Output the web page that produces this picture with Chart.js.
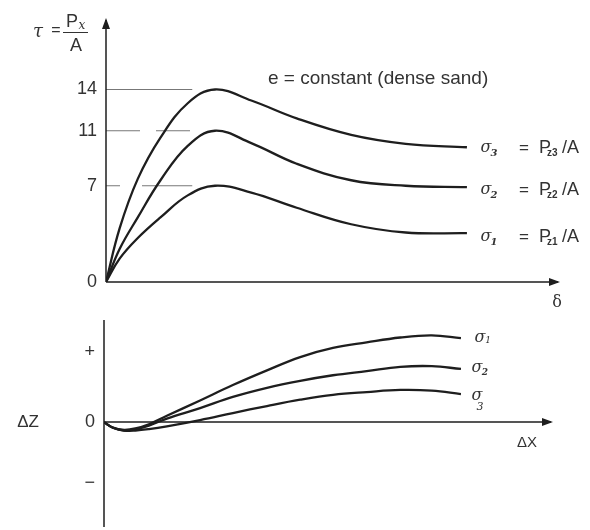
<!DOCTYPE html>
<html lang="en">
<head>
<meta charset="UTF-8">
<title>Dense sand - direct shear</title>
<script src="https://cdn.jsdelivr.net/npm/chart.js"></script>
<style>
  body { margin: 0; background: #fff; overflow: hidden; }
  #wrap { position: relative; width: 590px; height: 530px; }
  canvas { position: absolute; left: 0; }
  #topChart { top: 0; }
  #bottomChart { top: 300px; }
</style>
</head>
<body>
<div id="wrap">
  <canvas id="topChart" width="590" height="310"></canvas>
  <canvas id="bottomChart" width="590" height="230"></canvas>
</div>
<script>
// ---- top plot: tau = Px/A against displacement delta ----
const shearX    = [0, 3, 7, 12, 18, 24, 32, 42, 54, 66, 79.5];
const tauSigma3 = [0, 3.9, 7.5, 10.5, 13.0, 14.0, 13.2, 11.9, 10.7, 10.05, 9.8];
const tauSigma2 = [0, 2.4, 4.7, 7.4, 9.9, 11.0, 10.1, 8.6, 7.4, 7.0, 6.9];
const tauSigma1 = [0, 1.7, 3.2, 4.7, 6.3, 7.0, 6.5, 5.4, 4.2, 3.6, 3.55];
const tauTicks  = [0, 7, 11, 14];
const peakLevels = [14, 11, 7];
const peakLineX  = [0, 19];

// ---- bottom plot: vertical movement dZ against dX ----
const moveX    = [0, 2, 4.5, 7, 10, 14, 21.4, 28.7, 36.3, 43.7, 51, 58.5, 66, 73, 79.5];
const dzSigma1 = [0, -0.08, -0.11, -0.09, -0.03, 0.09, 0.31, 0.53, 0.74, 0.93, 1.06, 1.14, 1.21, 1.24, 1.20];
const dzSigma2 = [0, -0.08, -0.12, -0.10, -0.05, 0.05, 0.20, 0.36, 0.49, 0.59, 0.67, 0.73, 0.79, 0.80, 0.76];
const dzSigma3 = [0, -0.08, -0.12, -0.12, -0.10, -0.06, 0.03, 0.13, 0.23, 0.32, 0.39, 0.43, 0.46, 0.45, 0.40];
const dzTicks    = [-0.87, 0, 1];
const dzTickText = ['\u2212', '0', '+'];

const INK = '#1e1e1e';
const TXT = '#333';
const SANS = '"Liberation Sans", Arial, sans-serif';
const SERIF = '"DejaVu Serif", serif';

function pts(xs, ys) { return xs.map((x, i) => ({ x: x, y: ys[i] })); }

function curve(data) {
  return { data: data, borderColor: INK, borderWidth: 2.3, pointRadius: 0,
           showLine: true, tension: 0.4, fill: false };
}

function arrow(ctx, x, y, dir) {
  ctx.save();
  ctx.fillStyle = INK;
  ctx.beginPath();
  if (dir === 'right') { ctx.moveTo(x, y); ctx.lineTo(x - 11, y - 4); ctx.lineTo(x - 11, y + 4); }
  else { ctx.moveTo(x, y); ctx.lineTo(x - 4, y + 11); ctx.lineTo(x + 4, y + 11); }
  ctx.closePath();
  ctx.fill();
  ctx.restore();
}

function txt(ctx, s, x, y, font, align) {
  ctx.font = font;
  ctx.fillStyle = TXT;
  ctx.textAlign = align || 'left';
  ctx.textBaseline = 'middle';
  ctx.fillText(s, x, y);
}

function noPad(s) { s.width = 60; s.paddingTop = 0; s.paddingBottom = 0; }

// axes with arrow heads + free text
const topDecor = {
  id: 'topDecor',
  afterDraw(chart) {
    const ctx = chart.ctx, a = chart.chartArea;
    ctx.save();
    ctx.strokeStyle = INK; ctx.lineWidth = 1.5;
    ctx.beginPath();
    ctx.moveTo(a.left, a.bottom); ctx.lineTo(a.left, a.top + 2);
    ctx.moveTo(a.left, a.bottom); ctx.lineTo(a.right - 2, a.bottom);
    ctx.stroke();
    arrow(ctx, a.left, a.top, 'up');
    arrow(ctx, a.right, a.bottom, 'right');

    txt(ctx, '\u03c4', 38, 32, 'italic 18px ' + SERIF, 'center');
    txt(ctx, '=', 56, 31, '16px ' + SANS, 'center');
    txt(ctx, 'P', 72, 22, '18px ' + SANS, 'center');
    txt(ctx, 'x', 82, 26, 'italic 12px ' + SERIF, 'center');
    ctx.strokeStyle = TXT; ctx.lineWidth = 1;
    ctx.beginPath(); ctx.moveTo(63, 32.5); ctx.lineTo(88, 32.5); ctx.stroke();
    txt(ctx, 'A', 76, 46, '18px ' + SANS, 'center');

    txt(ctx, 'e = constant (dense sand)', 268, 79, '19px ' + SANS);

    const rows = [['3', 148, 'z3'], ['2', 190, 'z2'], ['1', 237, 'z1']];
    rows.forEach(r => {
      txt(ctx, '\u03c3', 486, r[1], 'italic 16px ' + SERIF, 'center');
      txt(ctx, r[0], 494, r[1] + 5, 'italic bold 10px ' + SERIF, 'center');
      txt(ctx, '=', 524, r[1], '17px ' + SANS, 'center');
      txt(ctx, 'P', 539, r[1], '18px ' + SANS);
      txt(ctx, r[2], 547, r[1] + 5, 'bold 10px ' + SANS);
      txt(ctx, '/A', 562, r[1], '18px ' + SANS);
    });
    txt(ctx, '\u03b4', 557, 303, '16px ' + SERIF, 'center');
    ctx.restore();
  }
};

const bottomDecor = {
  id: 'bottomDecor',
  afterDraw(chart) {
    const ctx = chart.ctx, a = chart.chartArea;
    const y0 = chart.scales.y.getPixelForValue(0);
    ctx.save();
    ctx.strokeStyle = INK; ctx.lineWidth = 1.5;
    ctx.beginPath();
    ctx.moveTo(a.left, a.top); ctx.lineTo(a.left, a.bottom);
    ctx.moveTo(a.left, y0); ctx.lineTo(a.right - 2, y0);
    ctx.stroke();
    arrow(ctx, a.right, y0, 'right');

    txt(ctx, '\u0394Z', 28, y0, '17px ' + SANS, 'center');
    txt(ctx, '\u0394X', 527, y0 + 21, '15px ' + SANS, 'center');
    txt(ctx, '\u03c3', 480, 38, 'italic 16px ' + SERIF, 'center');
    txt(ctx, '1', 488, 41, 'italic 9px ' + SERIF, 'center');
    txt(ctx, '\u03c3', 477, 68, 'italic 16px ' + SERIF, 'center');
    txt(ctx, '2', 485, 73, 'italic bold 9px ' + SERIF, 'center');
    txt(ctx, '\u03c3', 477, 96, 'italic 16px ' + SERIF, 'center');
    txt(ctx, '3', 480, 107, 'italic 11px ' + SERIF, 'center');
    ctx.restore();
  }
};

const peakDash = [[], [34, 16], [14, 22, 60, 10]];

new Chart(document.getElementById('topChart'), {
  type: 'scatter',
  data: {
    datasets: [
      curve(pts(shearX, tauSigma3)),
      curve(pts(shearX, tauSigma2)),
      curve(pts(shearX, tauSigma1))
    ].concat(peakLevels.map((lv, i) => ({
      data: peakLineX.map(x => ({ x: x, y: lv })),
      showLine: true, pointRadius: 0, borderColor: '#777', borderWidth: 1,
      borderDash: peakDash[i]
    })))
  },
  options: {
    responsive: false, animation: false,
    layout: { padding: { left: 46, right: 30, top: 18, bottom: 28 } },
    plugins: { legend: { display: false }, tooltip: { enabled: false } },
    scales: {
      x: { type: 'linear', min: 0, max: 100, display: false },
      y: {
        type: 'linear', min: 0, max: 19.2,
        afterFit: noPad,
        afterBuildTicks(s) { s.ticks = tauTicks.map(v => ({ value: v })); },
        grid: { display: false, drawTicks: false },
        border: { display: false },
        ticks: { padding: 9, color: TXT, font: { family: SANS, size: 18 } }
      }
    }
  },
  plugins: [topDecor]
});

new Chart(document.getElementById('bottomChart'), {
  type: 'scatter',
  data: {
    datasets: [
      curve(pts(moveX, dzSigma1)),
      curve(pts(moveX, dzSigma2)),
      curve(pts(moveX, dzSigma3))
    ]
  },
  options: {
    responsive: false, animation: false,
    layout: { padding: { left: 44, right: 37, top: 20, bottom: 3 } },
    plugins: { legend: { display: false }, tooltip: { enabled: false } },
    scales: {
      x: { type: 'linear', min: 0, max: 100, display: false },
      y: {
        type: 'linear', min: -1.5, max: 1.46,
        afterFit: noPad,
        afterBuildTicks(s) { s.ticks = dzTicks.map(v => ({ value: v })); },
        grid: { display: false, drawTicks: false },
        border: { display: false },
        ticks: {
          padding: 9, color: TXT, font: { family: SANS, size: 18 },
          callback: v => dzTickText[dzTicks.indexOf(v)]
        }
      }
    }
  },
  plugins: [bottomDecor]
});
</script>
</body>
</html>
